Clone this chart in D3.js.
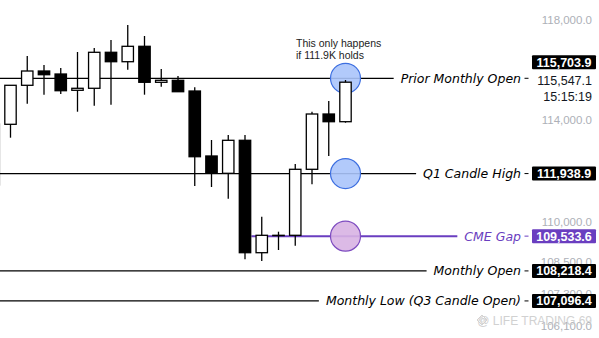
<!DOCTYPE html>
<html><head><meta charset="utf-8">
<script src="https://cdn.jsdelivr.net/npm/d3@7"></script>
<style>html,body{margin:0;padding:0;background:#fff;overflow:hidden}svg{display:block}</style>
</head><body>
<svg id="chart" width="599" height="338"></svg>
<script>
// ---- data ----
const candleIndex = d3.range(22);
const opens  = [111495,113870,115423,115997,115876,115223,115303,116753,116372,116996,115543,115623,115194,112624,111949,113239,108905,109559,109565,112105,114278,113973];
const highs  = [113882,115423,116603,116239,116118,116765,116927,117253,117865,117416,116078,115796,115343,113251,113448,113448,110275,109702,112311,114369,114795,115635];
const lows   = [111495,113342,114688,115047,115075,114369,114608,114648,116050,115047,115367,115166,111457,111418,110966,108656,108592,109007,109170,111523,112624,113934];
const closes = [113882,115423,115997,115848,115206,115303,116753,116372,116996,115543,115623,115166,112596,111949,113239,108905,109565,109565,112105,114278,113973,115547.1];

const tickValues = [118000,114000,110000,108500,107300,106100];
const levelNames  = ["Prior Monthly Open","Q1 Candle High","CME Gap","Monthly Open","Monthly Low (Q3 Candle Open)"];
const levelValues = [115703.9,111938.9,109533.6,108218.4,107096.4];
const circleLevels = [115703.9,111938.9,109533.6];
const lastPrice = 115547.1;
const countdown = "15:15:19";
const noteLines = ["This only happens","if 111.9K holds"];
const watermark = "@ LIFE TRADING 69";

// ---- scales ----
const svg = d3.select("#chart");
const y = d3.scaleLog().domain([118000,106100]).range([21.7, 21.7 + Math.log(118000/106100)*2880]);
const x = d3.scaleLinear().domain([0,21]).range([-6.25,345.5]);
const fmt = d3.format(",.1f");
const bodyW = 11.4;
const labelRight = 521, boxX = 532, boxW = 64, boxH = 14;
const lastIdx = candleIndex[candleIndex.length-1];

// tick labels (drawn first, boxes cover them)
svg.append("g").selectAll("text").data(tickValues).join("text")
  .attr("x",592).attr("y",d=>y(d)-1.5).attr("dy","0.35em")
  .attr("text-anchor","end")
  .style("font","11.5px 'Liberation Sans', Arial, sans-serif")
  .attr("fill","#adb0b7").text(d=>fmt(d));

// level lines + text
const lvl = svg.append("g");
levelValues.forEach((v,i)=>{
  const isGap = levelNames[i]==="CME Gap";
  const col = isGap ? "#6a3ec0" : "#000";
  const t = lvl.append("text").attr("x",labelRight).attr("y",y(v)).attr("dy","0.35em")
    .attr("text-anchor","end")
    .style("font","italic 12.5px 'DejaVu Sans', sans-serif")
    .attr("fill",col).text(levelNames[i]);
  const w = t.node().getComputedTextLength();
  const x0 = isGap ? x(15)+bodyW/2+0.7 : 0;
  lvl.insert("line","text").attr("x1",x0).attr("x2",labelRight - w - 7)
    .attr("y1",y(v)).attr("y2",y(v))
    .attr("stroke",col).attr("stroke-width",isGap?2:1.2);
  lvl.append("line").attr("x1",524.5).attr("x2",528.5).attr("y1",y(v)).attr("y2",y(v))
    .attr("stroke",col).attr("stroke-width",1);
});

// circles
const circleFill = ["#aac4fb","#aac4fb","#d8b2e3"];
const circleStroke = ["#3d6fe0","#3d6fe0","#7e4cc0"];
svg.append("g").selectAll("circle").data(circleLevels).join("circle")
  .attr("cx",x(lastIdx)).attr("cy",d=>y(d)).attr("r",15)
  .attr("fill",(d,i)=>circleFill[i]).attr("fill-opacity",0.9)
  .attr("stroke",(d,i)=>circleStroke[i]).attr("stroke-width",1.2);

// candles
const cg = svg.append("g");
candleIndex.forEach(i=>{
  const o=opens[i], h=highs[i], l=lows[i], c=closes[i];
  const up = c>=o;
  const cx = x(i);
  cg.append("line").attr("x1",cx).attr("x2",cx).attr("y1",y(h)).attr("y2",y(l))
    .attr("stroke","#000").attr("stroke-width",1.3);
  const top = y(Math.max(o,c)), bot = y(Math.min(o,c));
  cg.append("rect").attr("x",cx-bodyW/2).attr("y",top)
    .attr("width",bodyW).attr("height",Math.max(0.3,bot-top))
    .attr("fill",up?"#fff":"#000").attr("stroke","#000").attr("stroke-width",1.3);
});

// note text
const noteX = x(lastIdx)-49.5;
const note = svg.append("text").attr("x",noteX).attr("y",y(circleLevels[0])-31)
  .style("font","10.5px 'Liberation Sans', Arial, sans-serif").attr("fill","#222");
noteLines.forEach((s,k)=>note.append("tspan").attr("x",noteX).attr("dy",k?12:0).text(s));

// value boxes
const boxes = svg.append("g");
levelValues.forEach((v,i)=>{
  const isGap = levelNames[i]==="CME Gap";
  let cy = y(v);
  if (i===0) cy = y(v) - 16; // pushed above last-price label
  boxes.append("rect").attr("x",boxX).attr("y",cy-boxH/2).attr("width",boxW).attr("height",boxH)
    .attr("rx",1).attr("fill",isGap?"#6a3ec0":"#000");
  boxes.append("text").attr("x",boxX+boxW/2).attr("y",cy).attr("dy","0.36em")
    .attr("text-anchor","middle")
    .style("font","bold 12.5px 'Liberation Sans', Arial, sans-serif")
    .attr("fill","#fff").text(fmt(v));
});

// last price & countdown
svg.append("text").attr("x",592).attr("y",y(lastPrice)-2).attr("dy","0.35em").attr("text-anchor","end")
  .style("font","12.5px 'Liberation Sans', Arial, sans-serif").attr("fill","#131722").text(fmt(lastPrice));
svg.append("text").attr("x",592).attr("y",y(lastPrice)+14.5).attr("dy","0.35em").attr("text-anchor","end")
  .style("font","12.5px 'Liberation Sans', Arial, sans-serif").attr("fill","#131722").text(countdown);

// watermark
const wm = svg.append("g").attr("opacity",0.9);
wm.append("path").attr("d","M482,315 L487,320 L482,325 L477,320 Z M482,317.5 L484.5,320 L482,322.5 L479.5,320 Z")
  .attr("fill","none").attr("stroke","#cfcfcf").attr("stroke-width",1);
wm.append("text").attr("x",592).attr("y",321).attr("dy","0.35em").attr("text-anchor","end")
  .style("font","12px 'Liberation Sans', Arial, sans-serif").attr("fill","#cdcdcd").text(watermark);
</script>
</body></html>
